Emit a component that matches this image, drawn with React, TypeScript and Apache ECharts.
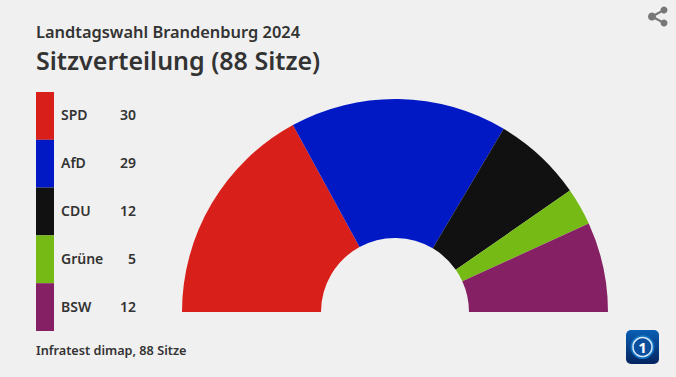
import React, { useEffect, useRef } from "react";
import * as echarts from "echarts";

const parties = ["SPD", "AfD", "CDU", "Grüne", "BSW"];
const seats = [30, 29, 12, 5, 12];
const colors = ["#D91F1A", "#0019C5", "#111111", "#76BB15", "#862064"];
const overline = "Landtagswahl Brandenburg 2024";
const heading = "Sitzverteilung (88 Sitze)";
const source = "Infratest dimap, 88 Sitze";
const FONT = "'Noto Sans', sans-serif";

export default function App() {
  const ref = useRef<HTMLDivElement>(null);
  useEffect(() => {
    const chart = echarts.init(ref.current!, undefined, { renderer: "svg" });
    chart.setOption({
      animation: false,
      backgroundColor: "#F0F0F0",
      title: [
        { text: overline, left: 36, top: 23, padding: 0, textStyle: { fontFamily: FONT, fontSize: 16.4, fontWeight: 600, color: "#333333" } },
        { text: heading, left: 36, top: 47, padding: 0, textStyle: { fontFamily: FONT, fontSize: 25, fontWeight: 600, color: "#333333" } },
        { text: source, left: 36, top: 343, padding: 0, textStyle: { fontFamily: FONT, fontSize: 12.7, fontWeight: 600, color: "#333333" } },
      ],
      legend: {
        orient: "vertical",
        left: 36,
        top: 92,
        padding: 0,
        itemWidth: 18,
        itemHeight: 47.8,
        itemGap: 0,
        icon: "rect",
        selectedMode: false,
        data: parties,
        formatter: (name: string) => `{n|${name}}{v|${seats[parties.indexOf(name)]}}`,
        textStyle: {
          rich: {
            n: { fontFamily: FONT, fontSize: 14, fontWeight: 600, color: "#333333", width: 51, padding: [0, 0, 2, 2] },
            v: { fontFamily: FONT, fontSize: 14, fontWeight: 600, color: "#333333", width: 24, align: "right", padding: [0, 0, 2, 0] },
          },
        },
      },
      series: [
        {
          type: "pie",
          center: [395, 312],
          radius: [74, 213],
          startAngle: 180,
          endAngle: 0,
          clockwise: true,
          label: { show: false },
          labelLine: { show: false },
          emphasis: { disabled: true },
          data: parties.map((name, i) => ({ name, value: seats[i], itemStyle: { color: colors[i] } })),
        },
      ],
      graphic: [
        { type: "line", shape: { x1: 652, y1: 16.5, x2: 664, y2: 10 }, style: { stroke: "#777777", lineWidth: 2 } },
        { type: "line", shape: { x1: 652, y1: 16.5, x2: 664, y2: 23 }, style: { stroke: "#777777", lineWidth: 2 } },
        { type: "circle", shape: { cx: 652, cy: 16.5, r: 4 }, style: { fill: "#777777" } },
        { type: "circle", shape: { cx: 664, cy: 10, r: 3.5 }, style: { fill: "#777777" } },
        { type: "circle", shape: { cx: 664, cy: 23, r: 3.5 }, style: { fill: "#777777" } },
        {
          type: "rect",
          shape: { x: 626, y: 330, width: 33, height: 34, r: 5 },
          style: {
            fill: new echarts.graphic.LinearGradient(0, 0, 0, 1, [
              { offset: 0, color: "#0A5FB4" },
              { offset: 1, color: "#04245F" },
            ]),
          },
        },
        { type: "circle", shape: { cx: 642.5, cy: 347, r: 12 }, style: { fill: "#1273C4" } },
        { type: "circle", shape: { cx: 642.5, cy: 347, r: 9.5 }, style: { fill: "#0B4E9E", stroke: "#D5E8F7", lineWidth: 1.5 } },
        { type: "text", x: 642.5, y: 347, style: { text: "1", fill: "#FFFFFF", fontFamily: FONT, fontSize: 15, fontWeight: 700, align: "center", verticalAlign: "middle" } },
      ],
    });
    return () => chart.dispose();
  }, []);
  return <div ref={ref} style={{ position: "fixed", left: 0, top: 0, width: 676, height: 377 }} />;
}
